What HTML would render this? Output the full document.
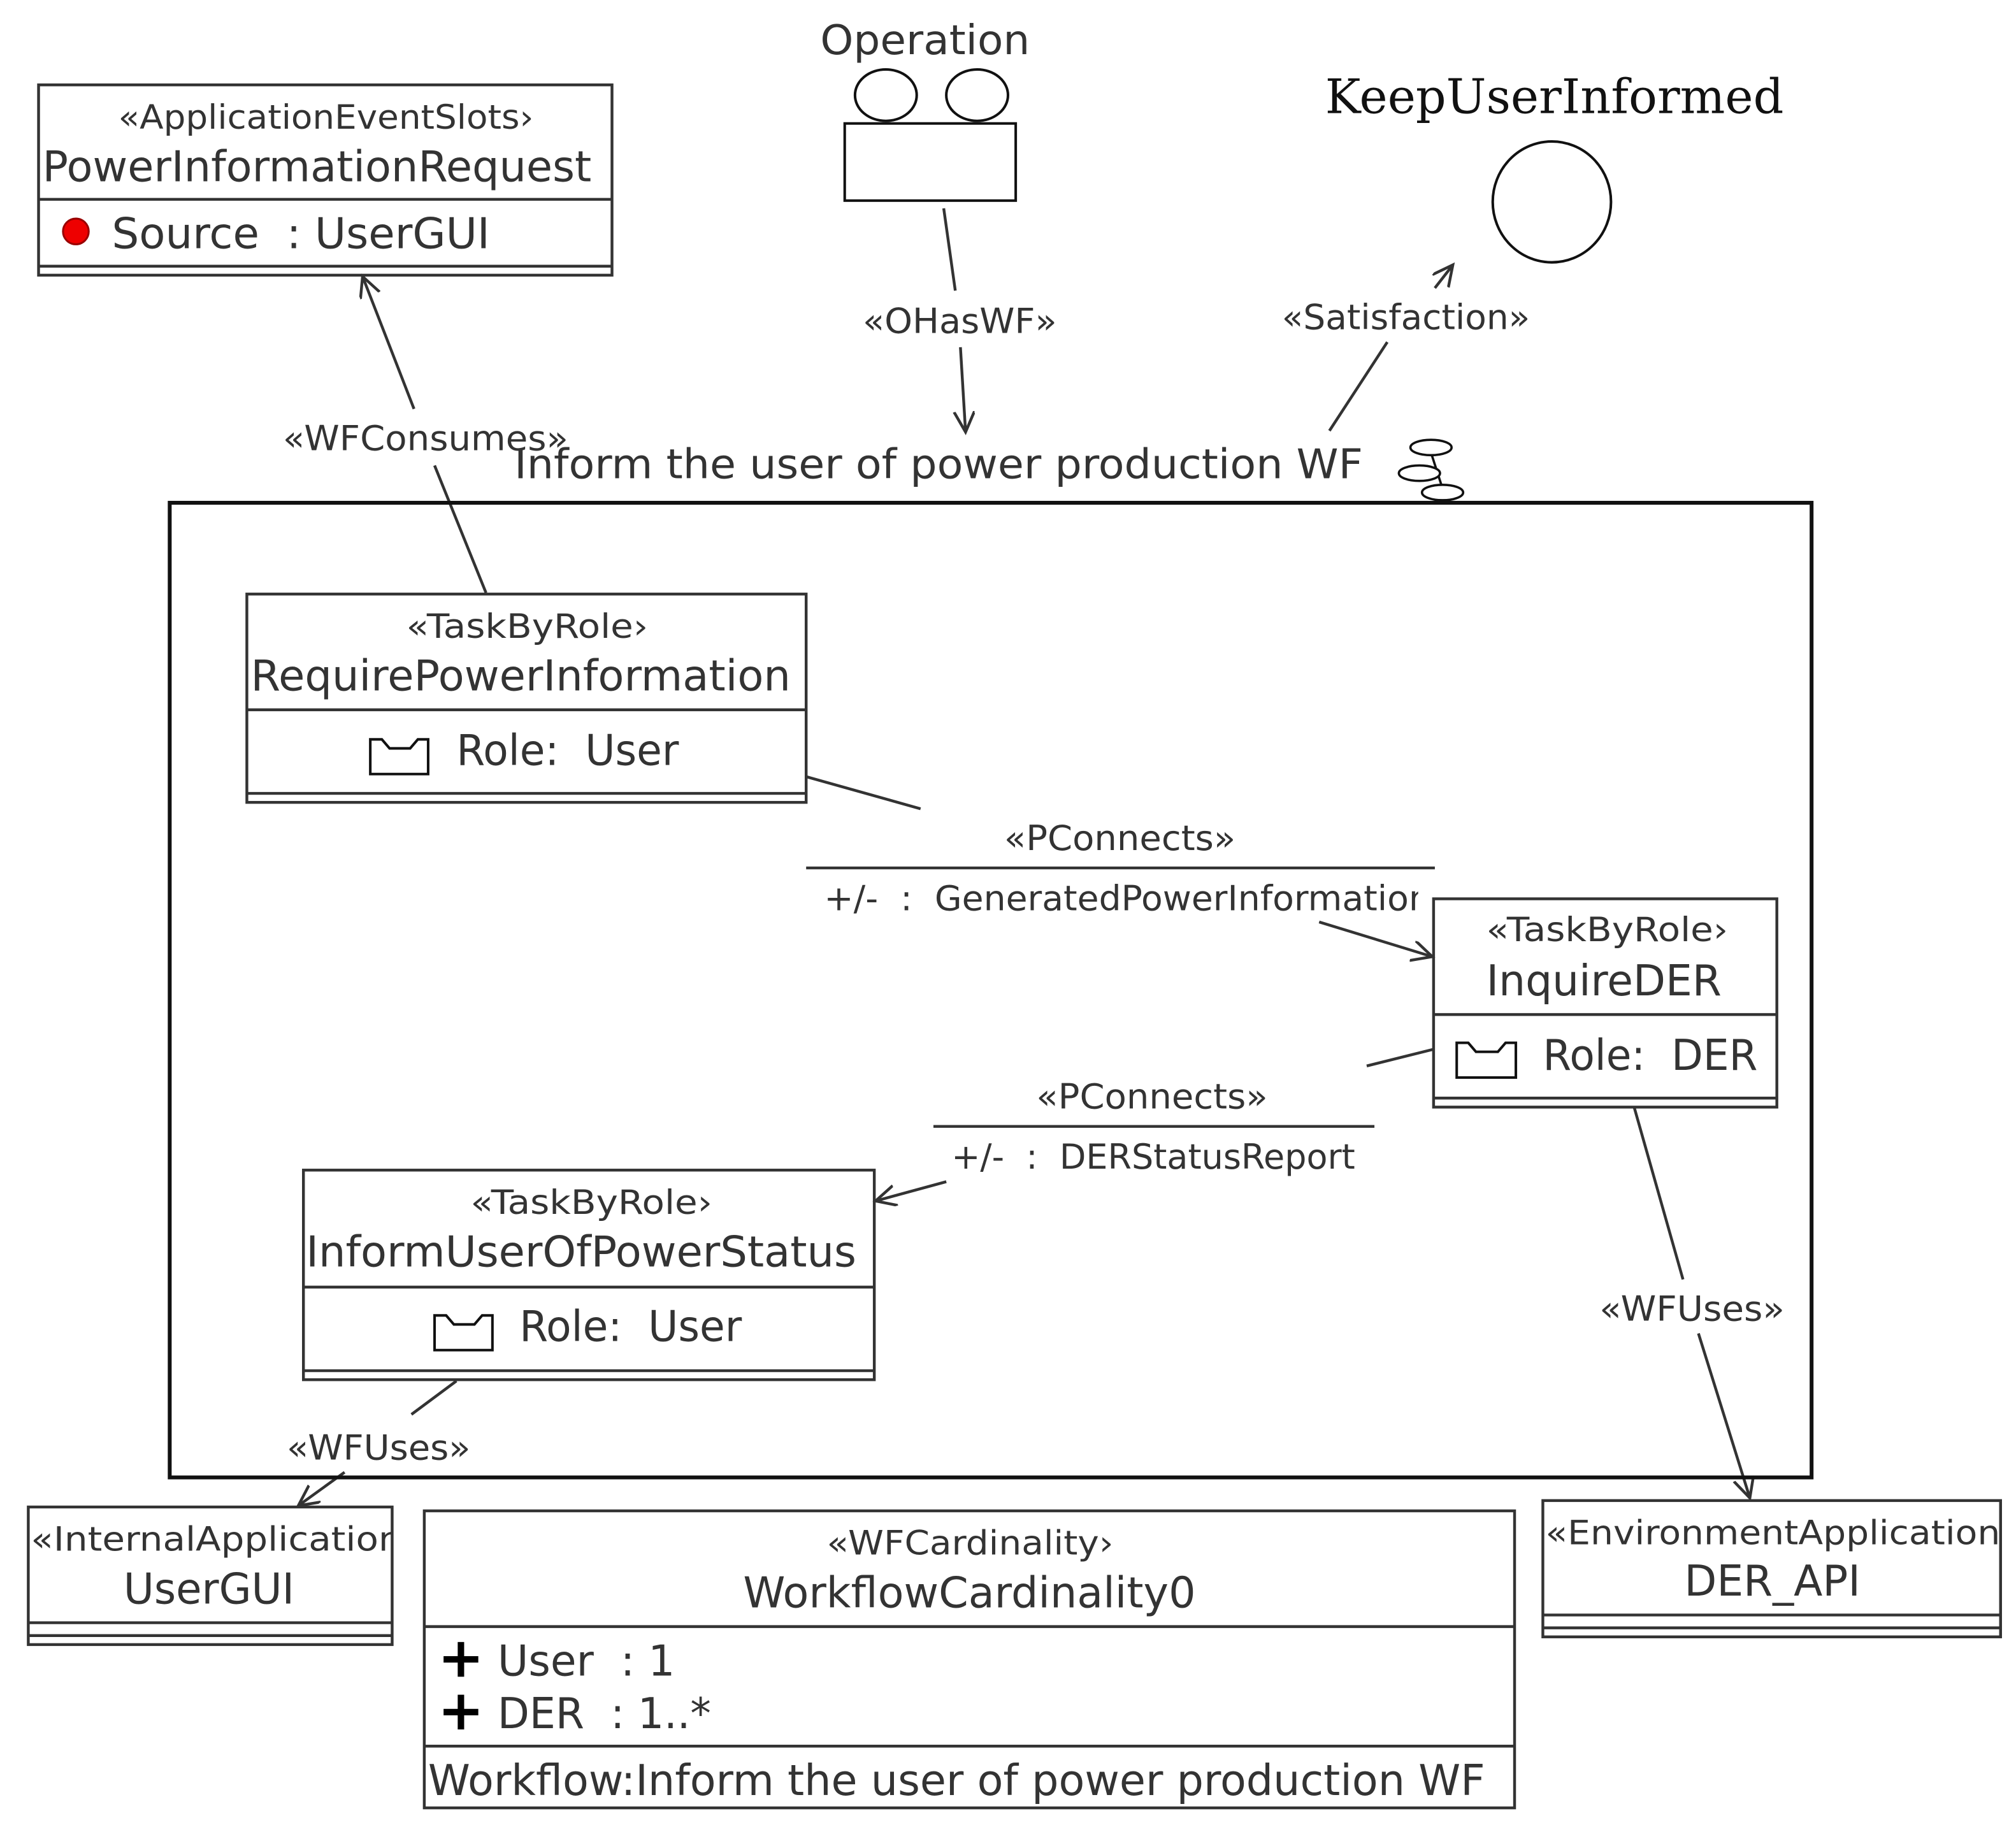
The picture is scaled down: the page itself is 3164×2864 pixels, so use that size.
<!DOCTYPE html>
<html><head><meta charset="utf-8"><style>
html,body{margin:0;padding:0;background:#fff;}
svg{display:block;}
text{font-family:"DejaVu Sans","Liberation Sans",sans-serif;fill:#333;}
</style></head><body>
<svg width="3164" height="2864" viewBox="0 0 1568 1419.3" xmlns="http://www.w3.org/2000/svg">
<defs>
<marker id="a" markerUnits="userSpaceOnUse" markerWidth="20" markerHeight="20" refX="16" refY="8" orient="auto">
<path d="M0,0 L16,8 L0,16" fill="none" stroke="#333" stroke-width="2.2"/>
</marker>
<clipPath id="c1"><rect x="22" y="1172" width="282" height="100"/></clipPath>
<clipPath id="c2"><rect x="1200" y="1167" width="355" height="100"/></clipPath>
<clipPath id="c3"><rect x="600" y="680" width="503" height="40"/></clipPath>
</defs>
<g stroke="#333" stroke-width="2.2" fill="none">
<line x1="322" y1="318" x2="282" y2="215" marker-end="url(#a)"/>
<line x1="338" y1="362" x2="378" y2="461"/>
<line x1="734" y1="162" x2="743" y2="226"/>
<line x1="747" y1="270" x2="751" y2="336" marker-end="url(#a)"/>
<line x1="1034" y1="335" x2="1079" y2="266"/>
<line x1="1116" y1="224" x2="1130" y2="206" marker-end="url(#a)"/>
<line x1="627" y1="604" x2="716" y2="629"/>
<line x1="1026" y1="717" x2="1114" y2="744" marker-end="url(#a)"/>
<line x1="1115" y1="816" x2="1063" y2="829"/>
<line x1="736" y1="919" x2="681" y2="934" marker-end="url(#a)"/>
<line x1="355" y1="1074" x2="320" y2="1100"/>
<line x1="268" y1="1145" x2="232" y2="1171" marker-end="url(#a)"/>
<line x1="1271" y1="861" x2="1309" y2="995"/>
<line x1="1321" y1="1037" x2="1361" y2="1165" marker-end="url(#a)"/>
<line x1="627" y1="675" x2="1116" y2="675"/>
<line x1="726" y1="876" x2="1069" y2="876"/>
</g>
<g stroke="#111" stroke-width="2" fill="#fff">
<ellipse cx="689" cy="74" rx="24" ry="20"/>
<ellipse cx="760" cy="74" rx="24" ry="20"/>
<rect x="657" y="96" width="133" height="60"/>
</g>
<text x="638" y="42" font-size="32" textLength="163" lengthAdjust="spacingAndGlyphs">Operation</text>
<text x="1209" y="88" font-size="37" text-anchor="middle" style="font-family:'DejaVu Serif','Liberation Serif',serif;fill:#111">KeepUserInformed</text>
<ellipse cx="1207" cy="157" rx="46" ry="47" fill="none" stroke="#111" stroke-width="2"/>
<rect x="132" y="391" width="1277" height="758" fill="none" stroke="#111" stroke-width="3"/>
<text x="400" y="372" font-size="32" textLength="660" lengthAdjust="spacingAndGlyphs">Inform the user of power production WF</text>
<g stroke="#111" stroke-width="1.8" fill="#fff">
<line x1="1113" y1="352" x2="1122" y2="380"/>
<ellipse cx="1113" cy="348" rx="16" ry="6"/>
<ellipse cx="1104" cy="368" rx="16" ry="6"/>
<ellipse cx="1122" cy="383" rx="16" ry="6"/>
</g>
<g stroke="#333" stroke-width="2.2" fill="none">
<rect x="30" y="66" width="446" height="148"/>
<line x1="30" y1="155" x2="476" y2="155"/><line x1="30" y1="207" x2="476" y2="207"/>
<rect x="192" y="462" width="435" height="162"/>
<line x1="192" y1="552" x2="627" y2="552"/><line x1="192" y1="617" x2="627" y2="617"/>
<rect x="1115" y="699" width="267" height="162"/>
<line x1="1115" y1="789" x2="1382" y2="789"/><line x1="1115" y1="854" x2="1382" y2="854"/>
<rect x="236" y="910" width="444" height="163"/>
<line x1="236" y1="1001" x2="680" y2="1001"/><line x1="236" y1="1066" x2="680" y2="1066"/>
<rect x="22" y="1172" width="283" height="107"/>
<line x1="22" y1="1262" x2="305" y2="1262"/><line x1="22" y1="1272" x2="305" y2="1272"/>
<rect x="330" y="1175" width="848" height="231"/>
<line x1="330" y1="1265" x2="1178" y2="1265"/><line x1="330" y1="1358" x2="1178" y2="1358"/>
<rect x="1200" y="1167" width="356" height="106"/>
<line x1="1200" y1="1256" x2="1556" y2="1256"/><line x1="1200" y1="1266" x2="1556" y2="1266"/>
</g>
<g stroke="#111" stroke-width="2" fill="none">
<path d="M288,575 V602 H333 V575 H325 L319,582 H303 L297,575 Z"/>
<path d="M1133,811 V838 H1179 V811 H1171 L1165,818 H1148 L1142,811 Z"/>
<path d="M338,1023 V1050 H383 V1023 H375 L369,1030 H353 L347,1023 Z"/>
</g>
<circle cx="59" cy="180" r="10" fill="#e00" stroke="#900" stroke-width="1.5"/>
<g fill="#000"><rect x="345" y="1288" width="27" height="5"/><rect x="356" y="1277" width="5" height="27"/>
<rect x="345" y="1329" width="27" height="5"/><rect x="356" y="1318" width="5" height="27"/></g>
<g lengthAdjust="spacingAndGlyphs">
<text x="92" y="100" font-size="26" textLength="323" lengthAdjust="spacingAndGlyphs">«ApplicationEventSlots›</text>
<text x="33" y="141" font-size="33" textLength="427" lengthAdjust="spacingAndGlyphs">PowerInformationRequest</text>
<text x="87" y="193" font-size="33" textLength="294" lengthAdjust="spacingAndGlyphs" xml:space="preserve">Source  : UserGUI</text>
<text x="220" y="350" font-size="27" textLength="222" lengthAdjust="spacingAndGlyphs">«WFConsumes»</text>
<text x="671" y="259" font-size="27" textLength="151" lengthAdjust="spacingAndGlyphs">«OHasWF»</text>
<text x="997" y="256" font-size="27" textLength="193" lengthAdjust="spacingAndGlyphs">«Satisfaction»</text>
<text x="316" y="496" font-size="26" textLength="188" lengthAdjust="spacingAndGlyphs">«TaskByRole›</text>
<text x="195" y="537" font-size="33" textLength="420" lengthAdjust="spacingAndGlyphs">RequirePowerInformation</text>
<text x="355" y="595" font-size="33" textLength="173" lengthAdjust="spacingAndGlyphs" xml:space="preserve">Role:  User</text>
<text x="781" y="661" font-size="27" textLength="180" lengthAdjust="spacingAndGlyphs">«PConnects»</text>
<text x="641" y="708" font-size="27" clip-path="url(#c3)" textLength="472" lengthAdjust="spacingAndGlyphs" xml:space="preserve">+/-  :  GeneratedPowerInformation</text>
<text x="1156" y="732" font-size="26" textLength="188" lengthAdjust="spacingAndGlyphs">«TaskByRole›</text>
<text x="1156" y="774" font-size="33" textLength="183" lengthAdjust="spacingAndGlyphs">InquireDER</text>
<text x="1200" y="832" font-size="33" textLength="167" lengthAdjust="spacingAndGlyphs" xml:space="preserve">Role:  DER</text>
<text x="806" y="862" font-size="27" textLength="180" lengthAdjust="spacingAndGlyphs">«PConnects»</text>
<text x="740" y="909" font-size="27" textLength="314" lengthAdjust="spacingAndGlyphs" xml:space="preserve">+/-  :  DERStatusReport</text>
<text x="366" y="944" font-size="26" textLength="188" lengthAdjust="spacingAndGlyphs">«TaskByRole›</text>
<text x="238" y="985" font-size="33" textLength="428" lengthAdjust="spacingAndGlyphs">InformUserOfPowerStatus</text>
<text x="404" y="1043" font-size="33" textLength="173" lengthAdjust="spacingAndGlyphs" xml:space="preserve">Role:  User</text>
<text x="223" y="1135" font-size="27" textLength="143" lengthAdjust="spacingAndGlyphs">«WFUses»</text>
<text x="1244" y="1027" font-size="27" textLength="144" lengthAdjust="spacingAndGlyphs">«WFUses»</text>
<text x="24" y="1206" font-size="26" clip-path="url(#c1)" textLength="300" lengthAdjust="spacingAndGlyphs">«InternalApplication›</text>
<text x="96" y="1247" font-size="33" textLength="133" lengthAdjust="spacingAndGlyphs">UserGUI</text>
<text x="643" y="1209" font-size="26" textLength="223" lengthAdjust="spacingAndGlyphs">«WFCardinality›</text>
<text x="578" y="1250" font-size="33" textLength="352" lengthAdjust="spacingAndGlyphs">WorkflowCardinality0</text>
<text x="387" y="1303" font-size="33" textLength="138" lengthAdjust="spacingAndGlyphs" xml:space="preserve">User  : 1</text>
<text x="387" y="1344" font-size="33" textLength="166" lengthAdjust="spacingAndGlyphs" xml:space="preserve">DER  : 1..*</text>
<text x="333" y="1396" font-size="33" textLength="822" lengthAdjust="spacingAndGlyphs">Workflow:Inform the user of power production WF</text>
<text x="1202" y="1201" font-size="26" clip-path="url(#c2)" textLength="365" lengthAdjust="spacingAndGlyphs">«EnvironmentApplication›</text>
<text x="1310" y="1241" font-size="33" textLength="137" lengthAdjust="spacingAndGlyphs">DER_API</text>
</g>
</svg>
</body></html>
